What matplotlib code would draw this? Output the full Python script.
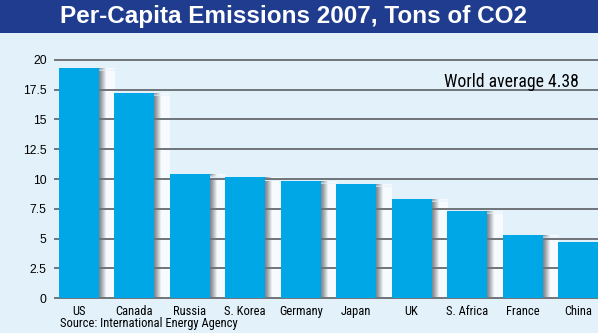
import numpy as np
import matplotlib
matplotlib.use("Agg")
import matplotlib.pyplot as plt
from matplotlib.patches import Rectangle
from matplotlib import font_manager

countries = ["US", "Canada", "Russia", "S. Korea", "Germany", "Japan",
             "UK", "S. Africa", "France", "China"]
tons_per_capita = [19.3, 17.2, 10.4, 10.15, 9.85, 9.6, 8.33, 7.33, 5.32, 4.75]
y_ticks = [0, 2.5, 5, 7.5, 10, 12.5, 15, 17.5, 20]
y_tick_labels = ["0", "2.5", "5", "7.5", "10", "12.5", "15", "17.5", "20"]
title = "Per-Capita Emissions 2007, Tons of CO2"
world_note = "World average 4.38"
source_note = "Source: International Energy Agency"

installed = {f.name for f in font_manager.fontManager.ttflist}
narrow_pref = ["Roboto Condensed", "Liberation Sans Narrow", "Archivo Narrow",
               "Barlow Semi Condensed", "Asap Condensed", "DejaVu Sans"]
narrow = [n for n in narrow_pref if n in installed] + ["DejaVu Sans"]
sans = ["Liberation Sans", "DejaVu Sans"]

BG = "#e2f1fa"
BAR = "#00a7e7"
BANNER = "#1f3c8e"
GRID = "#6f7478"

fig = plt.figure(figsize=(5.98, 3.33), dpi=100, facecolor=BG)

# title banner
fig.patches.append(Rectangle((0, 1 - 33 / 333), 1, 33 / 333, transform=fig.transFigure,
                             facecolor=BANNER, edgecolor="none", zorder=0))
fig.text(60 / 598, 1 - 17 / 333, title, color="white", fontsize=17.5, fontweight="bold",
         family=sans, va="center", ha="left")

ax = fig.add_axes([55 / 598, 1 - 298.3 / 333, 1 - 55 / 598, (298.3 - 59.7) / 333])
ax.set_facecolor(BG)
x = np.arange(len(countries))
width = 0.72

# gridlines
for t in y_ticks:
    ax.axhline(t, color=GRID, lw=1.4, zorder=2, clip_on=False)

# bar shadows: horizontal gray-to-light gradient to the right of each bar
grad = np.linspace(0, 1, 64)
shade_dark = np.array([0.50, 0.52, 0.55])
shade_light = np.array([0.97, 0.985, 1.0])
w = np.clip(grad / 0.45, 0, 1) ** 1.2
rgb = shade_dark[None, :] * (1 - w[:, None]) + shade_light[None, :] * w[:, None]
img = rgb[None, :, :]
sw = 0.28
for xi, v in zip(x, tons_per_capita):
    x0 = xi + width / 2
    top = v - 0.35
    ax.imshow(img, extent=(x0, x0 + sw, 0, top), aspect="auto", zorder=1,
              interpolation="bilinear")
    # soft top edge of the shadow
    fade = np.linspace(0, 1, 16)
    alpha = np.ones((16, 64)) * fade[:, None]
    rgba = np.dstack([np.repeat(img, 16, axis=0), alpha])
    ax.imshow(rgba[::-1], extent=(x0, x0 + sw, top, top + 0.3), aspect="auto",
              zorder=1, interpolation="bilinear")

ax.bar(x, tons_per_capita, width=width, color=BAR, zorder=3, edgecolor="none")
ax.set_xlim(-0.43, 9.36)
ax.set_ylim(0, 20)

for s in ax.spines.values():
    s.set_visible(False)
ax.set_yticks(y_ticks)
ax.set_yticklabels(y_tick_labels, family=sans, fontsize=8.7)
ax.set_xticks(x)
ax.set_xticklabels(countries, family=narrow, fontsize=9)
ax.tick_params(axis="y", length=0, pad=6)
ax.tick_params(axis="x", length=0, pad=5)

ax.text(0.964, 0.905, world_note, transform=ax.transAxes, ha="right", va="center",
        color="black", zorder=5, family=narrow, fontsize=12.7)

fig.text(60 / 598, 1 - 324 / 333, source_note, ha="left", va="center",
         family=narrow, fontsize=9)

fig.savefig("out.png", dpi=100, facecolor=BG)
